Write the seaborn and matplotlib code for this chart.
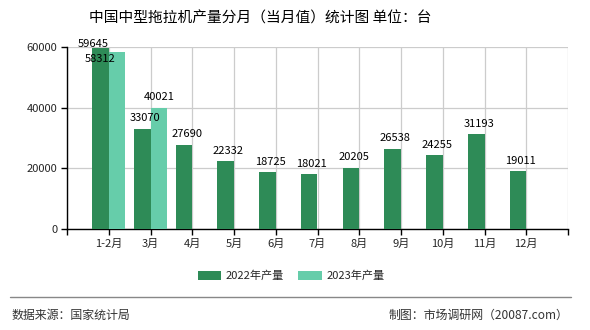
import matplotlib
matplotlib.use("Agg")
import matplotlib.pyplot as plt
import seaborn as sns
import pandas as pd
from matplotlib.patches import Patch
from matplotlib.lines import Line2D

months = ["1-2月", "3月", "4月", "5月", "6月", "7月", "8月", "9月", "10月", "11月", "12月"]
output_2022 = [59645, 33070, 27690, 22332, 18725, 18021, 20205, 26538, 24255, 31193, 19011]
output_2023 = [58312, 40021]
series_names = ["2022年产量", "2023年产量"]
colors = ["#2E8B57", "#66CDAA"]
yticks = [0, 20000, 40000, 60000]

rows = [(m, series_names[0], v) for m, v in zip(months, output_2022)]
rows += [(m, series_names[1], v) for m, v in zip(months, output_2023)]
df = pd.DataFrame(rows, columns=["month", "series", "value"])

sns.set_theme(style="white")
plt.rcParams["font.family"] = ["Noto Sans CJK SC", "DejaVu Sans"]

fig = plt.figure(figsize=(5.9, 3.3), dpi=100)
ax = fig.add_axes([67 / 590, 101 / 330, 501 / 590, 182 / 330])

sns.barplot(data=df, x="month", y="value", hue="series", order=months,
            hue_order=series_names, palette=colors, width=0.8, dodge=True,
            saturation=1, errorbar=None, legend=False, ax=ax, zorder=3)
for p in ax.patches:
    p.set_linewidth(0)

ax.set_xlim(-1, len(months))
ax.set_ylim(0, 60000)
ax.set_xticks(range(-1, len(months) + 1))
ax.set_xticklabels([""] + months + [""], fontsize=8)
ax.set_yticks(yticks)
ax.set_yticklabels([str(t) for t in yticks], fontsize=8)
ax.set_xlabel("")
ax.set_ylabel("")
ax.grid(True, color="#cccccc", linewidth=0.9, zorder=0)
ax.set_axisbelow(True)
for s in ["top", "right"]:
    ax.spines[s].set_visible(False)
for s in ["left", "bottom"]:
    ax.spines[s].set_color("black")
    ax.spines[s].set_linewidth(1.0)
ax.tick_params(axis="both", which="both", direction="out", length=4,
               width=1, color="black", pad=3, bottom=True, left=True)

# value labels above the bars
for i, v in enumerate(output_2022):
    dx, dy = (-5, -1) if i == 0 else (2, 4)
    ax.annotate(str(v), (i - 0.2, v), xytext=(dx, dy), textcoords="offset points",
                ha="center", va="bottom", fontsize=8, color="black",
                annotation_clip=False, zorder=5)
for i, v in enumerate(output_2023):
    if i == 0:
        ax.annotate(str(v), (i - 0.2, v), xytext=(0, -1), textcoords="offset points",
                    ha="center", va="top", fontsize=8, color="black",
                    annotation_clip=False, zorder=5)
    else:
        ax.annotate(str(v), (i + 0.2, v), xytext=(0, 4), textcoords="offset points",
                    ha="center", va="bottom", fontsize=8, color="black",
                    annotation_clip=False, zorder=5)

fig.text(260 / 590, 1 - 18 / 330, "中国中型拖拉机产量分月（当月值）统计图 单位：台",
         ha="center", va="center", fontsize=10.6, color="black")

handles = [Patch(facecolor=c, edgecolor="none") for c in colors]
fig.legend(handles, series_names, loc="center", bbox_to_anchor=(291 / 590, 1 - 276 / 330),
           ncol=2, frameon=False, fontsize=8, handlelength=2.1, handleheight=0.9,
           columnspacing=1.3, handletextpad=0.4)

fig.add_artist(Line2D([10 / 590, 571 / 590], [1 - 297 / 330] * 2,
                      color="#888888", linewidth=1, transform=fig.transFigure))
fig.text(12 / 590, 1 - 315 / 330, "数据来源：国家统计局", ha="left", va="center",
         fontsize=8.6, color="#333333")
fig.text(568 / 590, 1 - 315 / 330, "制图：市场调研网（20087.com）", ha="right",
         va="center", fontsize=8.6, color="#333333")

fig.savefig("out.png", dpi=100, facecolor="white")
